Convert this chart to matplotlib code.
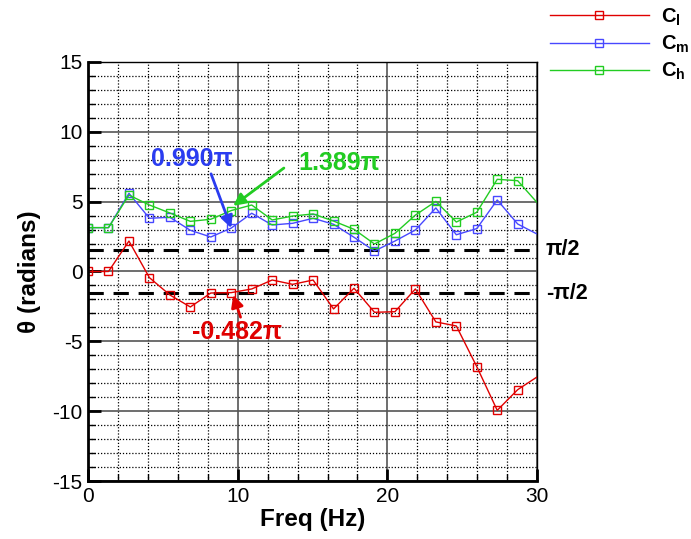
import numpy as np
import matplotlib
matplotlib.use("Agg")
from matplotlib import pyplot as plt
from matplotlib.ticker import MultipleLocator

plt.rcParams['font.family'] = ['Liberation Sans', 'DejaVu Sans']
plt.rcParams['mathtext.fontset'] = 'custom'
plt.rcParams['mathtext.rm'] = 'Liberation Sans'
plt.rcParams['mathtext.bf'] = 'Liberation Sans:bold'
plt.rcParams['axes.unicode_minus'] = False

# frequency bins (Hz)
df = 1.367
freq = np.arange(23) * df

# phase angles (radians)
phase_cl = [0.0, 0.0, 2.18, -0.44, -1.68, -2.54, -1.54, -1.514, -1.25, -0.61,
            -0.92, -0.61, -2.68, -1.20, -2.92, -2.88, -1.25, -3.61, -3.90,
            -6.81, -9.94, -8.46, -7.50]
phase_cm = [3.14, 3.14, 5.60, 3.81, 3.88, 2.95, 2.47, 3.110, 4.17, 3.33,
            3.45, 3.81, 3.38, 2.45, 1.47, 2.18, 2.97, 4.55, 2.63,
            3.07, 5.12, 3.40, 2.64]
phase_ch = [3.14, 3.14, 5.47, 4.76, 4.19, 3.59, 3.74, 4.364, 4.76, 3.69,
            3.97, 4.12, 3.61, 3.02, 1.97, 2.73, 4.04, 5.02, 3.54,
            4.24, 6.60, 6.50, 4.85]

RED = '#e00000'
BLUE = '#4848ff'
GREEN = '#22cc22'

fig = plt.figure(figsize=(6.91, 5.39), dpi=100)
ax = fig.add_axes([0.1274, 0.1076, 0.6498, 0.7774])

mk = dict(marker='s', markersize=6, markerfacecolor='none', markeredgewidth=1.0,
          lw=1.0, markevery=slice(0, 22))
ax.plot(freq, phase_cl, color=RED, label=r'$\mathbf{C_l}$', **mk)
ax.plot(freq, phase_cm, color=BLUE, label=r'$\mathbf{C_m}$', **mk)
ax.plot(freq, phase_ch, color=GREEN, label=r'$\mathbf{C_h}$', **mk)

# +/- pi/2 reference lines
for level in (np.pi / 2, -np.pi / 2):
    ax.axhline(level, color='black', lw=2.2, dashes=(5, 3.2), zorder=1)
ax.text(30.6, np.pi / 2, '\u03c0/2', fontsize=15.5, fontweight='bold',
        va='center', ha='left')
ax.text(30.6, -np.pi / 2, '-\u03c0/2', fontsize=15.5, fontweight='bold',
        va='center', ha='left')

ax.set_xlim(0, 30)
ax.set_ylim(-15, 15)
ax.xaxis.set_major_locator(MultipleLocator(10))
ax.xaxis.set_minor_locator(MultipleLocator(2))
ax.yaxis.set_major_locator(MultipleLocator(5))
ax.yaxis.set_minor_locator(MultipleLocator(1))
ax.grid(which='major', color='#555555', lw=1.2, ls='-', zorder=0)
ax.grid(which='minor', color='black', lw=0.9, ls=(0, (1, 1.5)), zorder=0)
ax.set_axisbelow(True)
ax.tick_params(which='major', direction='in', length=9, width=2, labelsize=15,
               pad=4)
ax.tick_params(which='minor', direction='in', length=5, width=1)
for s in ax.spines.values():
    s.set_linewidth(1.0)
ax.spines['left'].set_linewidth(2)
ax.spines['bottom'].set_linewidth(2)

ax.set_xlabel('Freq (Hz)', fontsize=17.5, fontweight='bold', labelpad=2)
ax.set_ylabel('\u03b8 (radians)', fontsize=17.5, fontweight='bold', labelpad=8)

# annotated phase values at 10 Hz
arrow = dict(arrowstyle='-|>', lw=2, mutation_scale=18, shrinkA=0, shrinkB=0)
ax.annotate('0.990\u03c0', xy=(freq[7], phase_cm[7]), xytext=(6.95, 8.05),
            color='#2a3cf0', fontsize=18, fontweight='bold', ha='center',
            va='center', arrowprops=dict(arrow, color='#2a3cf0',
                                         relpos=(0.72, 0.0)))
ax.annotate('1.389\u03c0', xy=(9.7, 4.7), xytext=(16.8, 7.75),
            color=GREEN, fontsize=18, fontweight='bold', ha='center',
            va='center', arrowprops=dict(arrow, color=GREEN,
                                         relpos=(-0.18, 0.3)))
ax.annotate('-0.482\u03c0', xy=(9.7, -1.68), xytext=(9.95, -4.33),
            color=RED, fontsize=18, fontweight='bold', ha='center',
            va='center', arrowprops=dict(arrow, color=RED,
                                         relpos=(0.55, 1.0)))

fig.legend(loc='upper left', bbox_to_anchor=(0.796, 0.988), frameon=False,
           fontsize=14.5, handlelength=4.9, handletextpad=0.6,
           labelspacing=0.3, borderpad=0.0, borderaxespad=0.0)

fig.savefig('out.png', dpi=100)
